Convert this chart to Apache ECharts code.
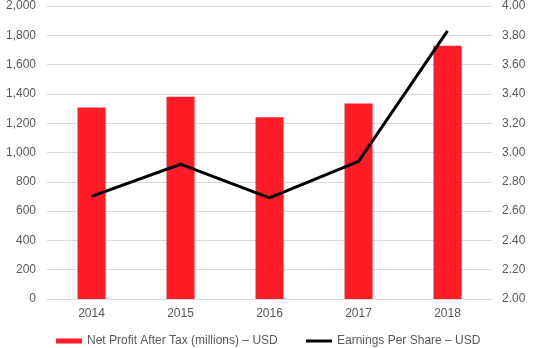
<!DOCTYPE html>
<html>
<head>
<meta charset="utf-8">
<script src="https://cdn.jsdelivr.net/npm/echarts@6/dist/echarts.min.js"></script>
<style>
  html, body { margin: 0; padding: 0; background: #fff; }
  #chart { width: 535px; height: 348px; }
</style>
</head>
<body>
<div id="chart"></div>
<script>
// Annual results, 2014–2018
const years = ['2014', '2015', '2016', '2017', '2018'];
const netProfit = [1308, 1381, 1240, 1335, 1728];      // millions USD
const eps = [2.70, 2.92, 2.69, 2.94, 3.83];            // USD per share

const profitName = 'Net Profit After Tax (millions) \u2013 USD';
const epsName = 'Earnings Per Share \u2013 USD';

const textColor = '#595959';
const font = 'Liberation Sans, Arial, sans-serif';

const chart = echarts.init(document.getElementById('chart'), null, { renderer: 'canvas' });

chart.setOption({
  animation: false,
  grid: { left: 47, right: 43, top: 5, bottom: 49, containLabel: false },
  legend: [
    {
      data: [{ name: profitName, icon: 'rect' }],
      left: 56, top: 335, padding: 0,
      itemWidth: 26, itemHeight: 5,
      textStyle: { color: textColor, fontSize: 12, fontFamily: font }
    },
    {
      data: [{ name: epsName, icon: 'rect' }],
      left: 306, top: 335, padding: 0,
      itemWidth: 26, itemHeight: 3,
      textStyle: { color: textColor, fontSize: 12, fontFamily: font }
    }
  ],
  xAxis: {
    type: 'category',
    data: years,
    axisLine: { show: true, lineStyle: { color: '#d9d9d9' } },
    axisTick: { show: false },
    axisLabel: { color: textColor, fontSize: 12, fontFamily: font, margin: 9 }
  },
  yAxis: [
    {
      type: 'value',
      min: 0, max: 2000, interval: 200,
      axisLine: { show: false },
      axisTick: { show: false },
      splitLine: { lineStyle: { color: '#d9d9d9', width: 1 } },
      axisLabel: {
        color: textColor, fontSize: 12, fontFamily: font, margin: 11,
        formatter: v => v.toLocaleString('en-US')
      }
    },
    {
      type: 'value',
      min: 2, max: 4, interval: 0.2,
      axisLine: { show: false },
      axisTick: { show: false },
      splitLine: { show: false },
      axisLabel: {
        color: textColor, fontSize: 12, fontFamily: font, margin: 10,
        formatter: v => v.toFixed(2)
      }
    }
  ],
  series: [
    {
      name: profitName,
      type: 'bar',
      data: netProfit,
      barWidth: 28,
      itemStyle: { color: '#ff1c26' }
    },
    {
      name: epsName,
      type: 'line',
      yAxisIndex: 1,
      data: eps,
      symbol: 'none',
      lineStyle: { color: '#000', width: 3 },
      itemStyle: { color: '#000' }
    }
  ]
});
</script>
</body>
</html>
